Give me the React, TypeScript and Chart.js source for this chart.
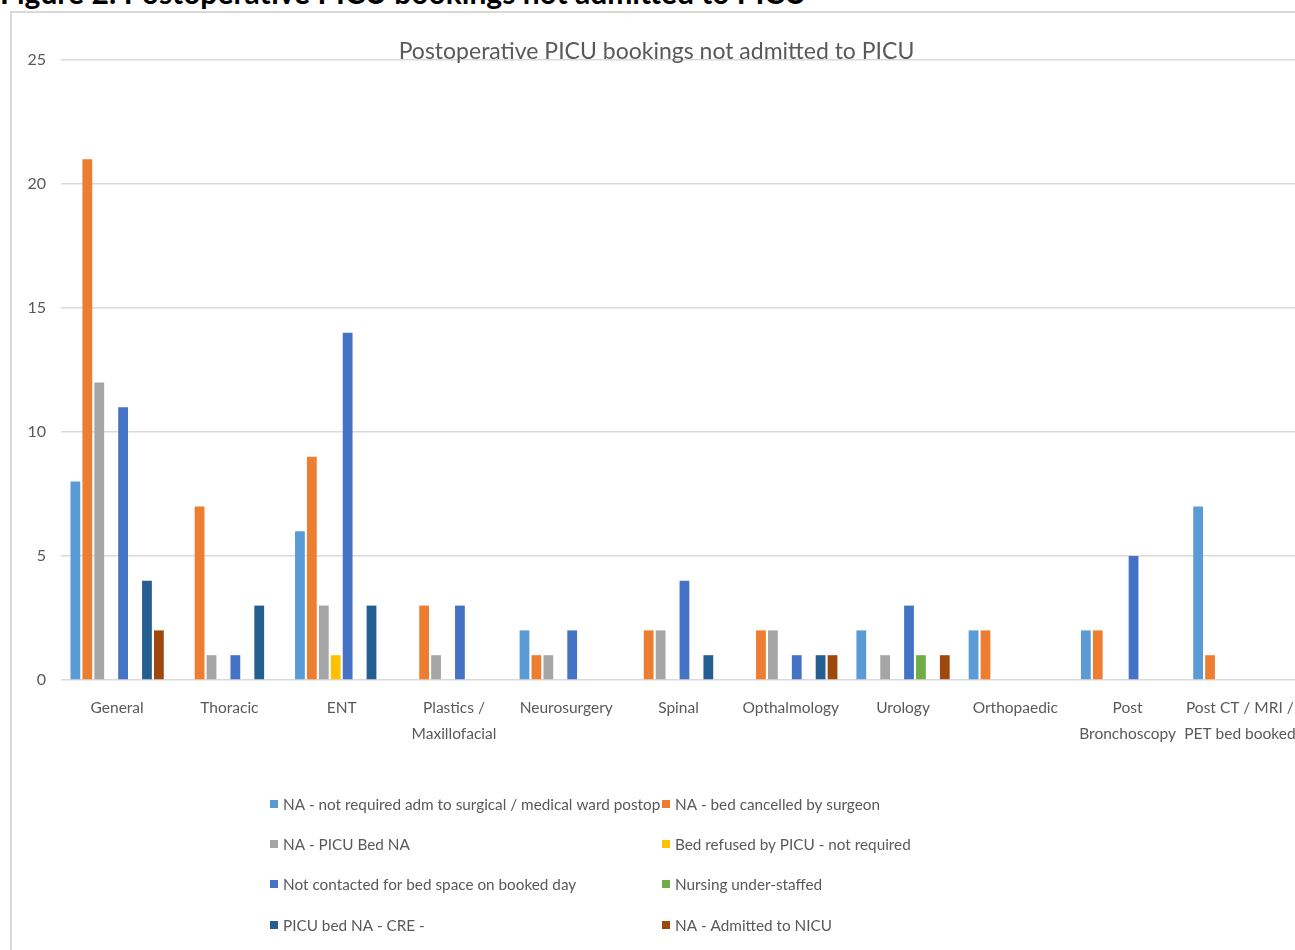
import React, { useEffect, useRef } from "react";
import { Chart, registerables } from "chart.js";

Chart.register(...registerables);

const categories: (string | string[])[] = [
  "General",
  "Thoracic",
  "ENT",
  ["Plastics /", "Maxillofacial"],
  "Neurosurgery",
  "Spinal",
  "Opthalmology",
  "Urology",
  "Orthopaedic",
  ["Post", "Bronchoscopy"],
  ["Post CT / MRI /", "PET bed booked"],
];

const seriesNames = [
  "NA - not required adm to surgical / medical ward postop",
  "NA - bed cancelled by surgeon",
  "NA - PICU Bed NA",
  "Bed refused by PICU - not required",
  "Not contacted for bed space on booked day",
  "Nursing under-staffed",
  "PICU bed NA - CRE -",
  "NA - Admitted to NICU",
];

const seriesColors = ["#5B9BD5", "#ED7D31", "#A5A5A5", "#FFC000", "#4472C4", "#70AD47", "#255E91", "#9E480E"];

const notRequired = [8, 0, 6, 0, 2, 0, 0, 2, 2, 2, 7];
const cancelledBySurgeon = [21, 7, 9, 3, 1, 2, 2, 0, 2, 2, 1];
const picuBedNA = [12, 1, 3, 1, 1, 2, 2, 1, 0, 0, 0];
const refusedByPicu = [0, 0, 1, 0, 0, 0, 0, 0, 0, 0, 0];
const notContacted = [11, 1, 14, 3, 2, 4, 1, 3, 0, 5, 0];
const nursingUnderStaffed = [0, 0, 0, 0, 0, 0, 0, 1, 0, 0, 0];
const picuBedCRE = [4, 3, 3, 0, 0, 1, 1, 0, 0, 0, 0];
const admittedNICU = [2, 0, 0, 0, 0, 0, 1, 1, 0, 0, 0];

const seriesValues = [
  notRequired,
  cancelledBySurgeon,
  picuBedNA,
  refusedByPicu,
  notContacted,
  nursingUnderStaffed,
  picuBedCRE,
  admittedNICU,
];

const chartTitle = "Postoperative PICU bookings not admitted to PICU";
const figureHeading = "Figure 2: Postoperative PICU bookings not admitted to PICU";
const yTicks = [0, 5, 10, 15, 20, 25];

const FONT = 'Lato, "Open Sans", sans-serif';
const TEXT = "#595959";

export default function App() {
  const ref = useRef<HTMLCanvasElement | null>(null);

  useEffect(() => {
    if (!ref.current) return;
    const overlay = {
      id: "overlay",
      afterDraw(chart: any) {
        const ctx = chart.ctx as CanvasRenderingContext2D;
        ctx.save();
        // title
        ctx.fillStyle = TEXT;
        ctx.font = `23px ${FONT}`;
        ctx.textAlign = "center";
        ctx.textBaseline = "middle";
        ctx.fillText(chartTitle, chart.width / 2, chart.chartArea.top - 8);
        // legend (2 columns)
        const base = chart.chartArea.bottom;
        const colX = [258, 650];
        const rowY = [124, 164, 204, 245];
        ctx.font = `15.3px ${FONT}`;
        ctx.textAlign = "left";
        seriesNames.forEach((name, i) => {
          const col = i % 2;
          const row = Math.floor(i / 2);
          const x = colX[col];
          const y = base + rowY[row];
          ctx.fillStyle = seriesColors[i];
          ctx.fillRect(x, y - 4, 8, 8);
          ctx.fillStyle = TEXT;
          ctx.fillText(name, x + 13, y + 1);
        });
        ctx.restore();
      },
    };

    const chart = new Chart(ref.current, {
      type: "bar",
      data: {
        labels: categories as any,
        datasets: seriesValues.map((vals, i) => ({
          label: seriesNames[i],
          data: vals,
          backgroundColor: seriesColors[i],
          borderWidth: 0,
          categoryPercentage: 0.85,
          barPercentage: 0.82,
        })),
      },
      options: {
        animation: false,
        responsive: false,
        maintainAspectRatio: false,
        layout: { padding: { top: 47, right: 5, bottom: 203, left: 0 } },
        plugins: {
          legend: { display: false },
          title: { display: false },
          tooltip: { enabled: false },
        },
        scales: {
          x: {
            grid: { display: false, drawTicks: false },
            border: { display: false },
            ticks: {
              color: TEXT,
              font: { family: FONT, size: 15.5, lineHeight: 1.68 },
              padding: 15,
              maxRotation: 0,
              autoSkip: false,
            },
            afterFit: (s: any) => {
              s.height = 80;
              s.paddingLeft = 0;
              s.paddingRight = 0;
            },
          },
          y: {
            min: 0,
            max: 25,
            afterBuildTicks: (s: any) => {
              s.ticks = yTicks.map((v) => ({ value: v }));
            },
            grid: { color: "#D9D9D9", lineWidth: 1.5, drawTicks: false },
            border: { display: false },
            ticks: {
              color: TEXT,
              font: { family: FONT, size: 16 },
              padding: 15,
            },
            afterFit: (s: any) => {
              s.width = 49;
            },
          },
        },
      },
      plugins: [overlay],
    });
    return () => chart.destroy();
  }, []);

  return (
    <div
      style={{
        position: "fixed",
        left: 0,
        top: 0,
        width: 1295,
        height: 950,
        overflow: "hidden",
        background: "#fff",
      }}
    >
      <div
        style={{
          position: "absolute",
          left: 0,
          top: -23,
          whiteSpace: "nowrap",
          font: `bold 30px ${FONT}`,
          lineHeight: "30px",
          color: "#000",
        }}
      >
        {figureHeading}
      </div>
      <div
        style={{
          position: "absolute",
          left: 10,
          top: 11,
          border: "2px solid #D9D9D9",
          width: 1289,
          height: 950,
        }}
      >
        <canvas ref={ref} width={1289} height={950} style={{ display: "block", width: 1289, height: 950 }} />
      </div>
    </div>
  );
}
